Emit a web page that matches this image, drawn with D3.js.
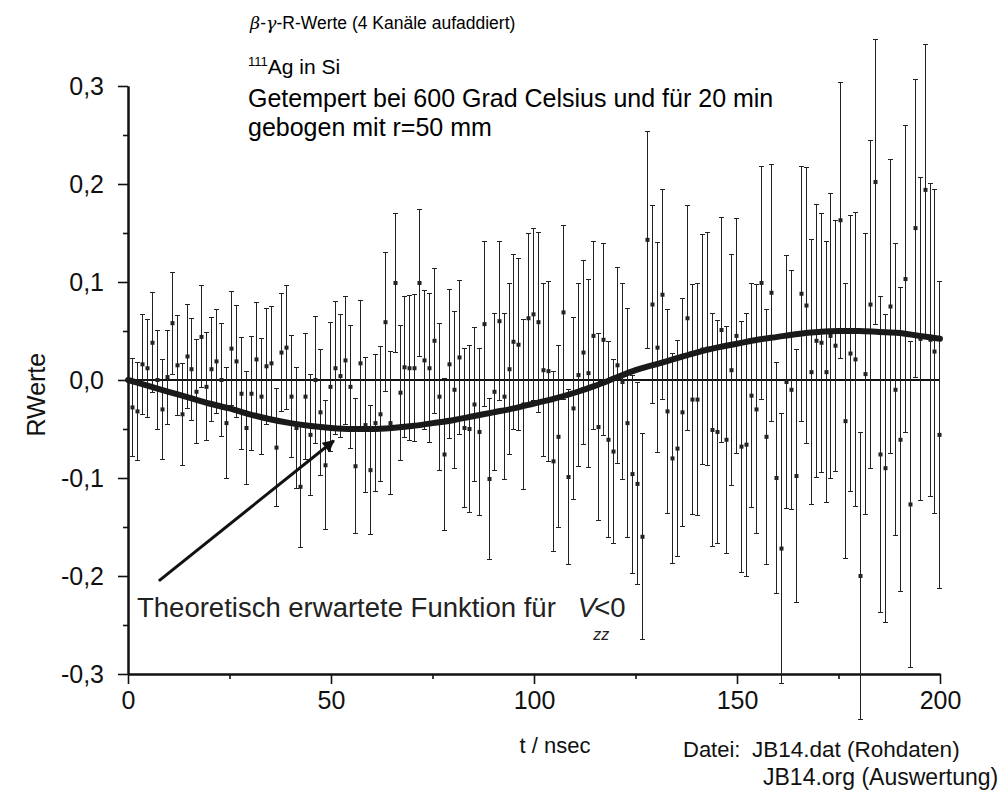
<!DOCTYPE html>
<html>
<head>
<meta charset="utf-8">
<script src="https://cdn.jsdelivr.net/npm/d3@7"></script>
<style>
  body { margin: 0; background: #fff; }
  svg { display: block; font-family: "Liberation Sans", Arial, sans-serif; }
</style>
</head>
<body>
<div id="chart"></div>
<script>
// ── Data ────────────────────────────────────────────────────────────────────

// channel times in ns
const tNs = [
    1.00, 2.22, 3.44, 4.66, 5.88, 7.10, 8.32, 9.54, 10.76, 11.98,
    13.20, 14.42, 15.64, 16.86, 18.08, 19.30, 20.52, 21.74, 22.96, 24.18,
    25.40, 26.62, 27.84, 29.06, 30.28, 31.50, 32.72, 33.94, 35.16, 36.38,
    37.60, 38.82, 40.04, 41.26, 42.48, 43.70, 44.92, 46.14, 47.36, 48.58,
    49.80, 51.02, 52.24, 53.46, 54.68, 55.90, 57.12, 58.34, 59.56, 60.78,
    62.00, 63.22, 64.44, 65.66, 66.88, 68.10, 69.32, 70.54, 71.76, 72.98,
    74.20, 75.42, 76.64, 77.86, 79.08, 80.30, 81.52, 82.74, 83.96, 85.18,
    86.40, 87.62, 88.84, 90.06, 91.28, 92.50, 93.72, 94.94, 96.16, 97.38,
    98.60, 99.82, 101.04, 102.26, 103.48, 104.70, 105.92, 107.14, 108.36, 109.58,
    110.80, 112.02, 113.24, 114.46, 115.68, 116.90, 118.12, 119.34, 120.56, 121.78,
    123.00, 124.22, 125.44, 126.66, 127.88, 129.10, 130.32, 131.54, 132.76, 133.98,
    135.20, 136.42, 137.64, 138.86, 140.08, 141.30, 142.52, 143.74, 144.96, 146.18,
    147.40, 148.62, 149.84, 151.06, 152.28, 153.50, 154.72, 155.94, 157.16, 158.38,
    159.60, 160.82, 162.04, 163.26, 164.48, 165.70, 166.92, 168.14, 169.36, 170.58,
    171.80, 173.02, 174.24, 175.46, 176.68, 177.90, 179.12, 180.34, 181.56, 182.78,
    184.00, 185.22, 186.44, 187.66, 188.88, 190.10, 191.32, 192.54, 193.76, 194.98,
    196.20, 197.42, 198.64, 199.86
];

// measured R values
const rValues = [
    -0.028, -0.032, 0.016, 0.012, 0.038, 0.000, -0.030, 0.003, 0.058, 0.015,
    -0.035, 0.024, 0.011, -0.012, 0.044, -0.007, 0.011, 0.019, 0.000, -0.044,
    0.032, 0.019, -0.014, -0.049, -0.014, 0.021, -0.017, 0.014, 0.017, -0.069,
    0.028, 0.033, -0.017, -0.049, -0.109, -0.017, -0.056, 0.000, -0.033, -0.087,
    -0.007, 0.012, 0.004, 0.020, -0.007, -0.088, 0.017, -0.046, -0.092, -0.044,
    -0.035, 0.059, -0.044, 0.099, -0.013, 0.013, 0.012, 0.012, 0.099, 0.020,
    0.012, 0.040, -0.017, -0.076, 0.016, -0.010, 0.023, -0.049, -0.050, -0.025,
    -0.053, 0.057, -0.101, -0.012, 0.060, -0.017, 0.011, 0.039, 0.036, -0.025,
    0.063, 0.067, 0.059, 0.010, 0.009, -0.083, -0.058, 0.069, -0.099, -0.029,
    0.005, 0.028, 0.007, 0.045, -0.048, 0.041, -0.061, -0.073, 0.015, -0.002,
    -0.044, -0.096, -0.106, -0.160, 0.143, 0.077, 0.033, 0.087, -0.032, -0.080,
    -0.070, -0.033, 0.063, -0.020, -0.020, 0.031, 0.032, -0.051, -0.053, 0.051,
    -0.061, 0.010, 0.045, -0.068, -0.066, -0.016, -0.030, 0.099, -0.058, 0.089,
    -0.100, -0.172, -0.002, -0.010, -0.098, 0.088, 0.076, 0.008, 0.040, 0.038,
    0.008, 0.045, 0.035, 0.163, -0.042, 0.027, 0.021, -0.200, 0.006, 0.077,
    0.202, -0.076, -0.090, 0.075, -0.010, -0.061, 0.103, -0.127, 0.155, 0.042,
    0.194, 0.041, 0.029, -0.056
];

// error bar half-widths
const rErrors = [
    0.050, 0.050, 0.051, 0.050, 0.051, 0.051, 0.051, 0.048, 0.052, 0.051,
    0.052, 0.053, 0.052, 0.053, 0.052, 0.055, 0.053, 0.053, 0.058, 0.057,
    0.058, 0.057, 0.057, 0.058, 0.058, 0.058, 0.059, 0.059, 0.058, 0.060,
    0.060, 0.063, 0.062, 0.062, 0.062, 0.064, 0.062, 0.065, 0.064, 0.066,
    0.066, 0.068, 0.063, 0.065, 0.063, 0.069, 0.064, 0.069, 0.066, 0.070,
    0.069, 0.071, 0.073, 0.071, 0.069, 0.072, 0.074, 0.075, 0.075, 0.071,
    0.076, 0.074, 0.075, 0.078, 0.076, 0.080, 0.079, 0.081, 0.085, 0.079,
    0.085, 0.084, 0.082, 0.080, 0.081, 0.085, 0.087, 0.089, 0.088, 0.087,
    0.087, 0.088, 0.092, 0.088, 0.092, 0.092, 0.093, 0.089, 0.089, 0.093,
    0.093, 0.094, 0.096, 0.096, 0.095, 0.098, 0.100, 0.094, 0.100, 0.100,
    0.117, 0.101, 0.103, 0.105, 0.111, 0.101, 0.107, 0.107, 0.104, 0.107,
    0.110, 0.116, 0.115, 0.117, 0.118, 0.117, 0.119, 0.119, 0.114, 0.115,
    0.116, 0.118, 0.120, 0.128, 0.134, 0.114, 0.127, 0.119, 0.130, 0.131,
    0.118, 0.138, 0.129, 0.122, 0.129, 0.130, 0.141, 0.135, 0.139, 0.132,
    0.133, 0.145, 0.128, 0.141, 0.140, 0.141, 0.150, 0.146, 0.143, 0.167,
    0.145, 0.161, 0.157, 0.150, 0.149, 0.155, 0.157, 0.166, 0.152, 0.165,
    0.148, 0.160, 0.165, 0.157
];

// theoretical curve for Vzz < 0
const fitT = [0, 5, 10, 15, 20, 25, 30, 35, 40, 45, 50, 55, 60, 65, 70, 75, 80, 85, 90, 95, 100,
              105, 110, 115, 120, 125, 130, 135, 140, 145, 150, 155, 160, 165, 170, 175, 180, 185, 190, 195, 200];
const fitR = [0, -0.006, -0.012, -0.018, -0.024, -0.029, -0.035, -0.040, -0.044, -0.047, -0.049,
              -0.050, -0.050, -0.049, -0.047, -0.044, -0.041, -0.037, -0.033, -0.029, -0.024,
              -0.019, -0.013, -0.006, 0.002, 0.010, 0.016, 0.022, 0.028, 0.033, 0.037,
              0.041, 0.044, 0.047, 0.049, 0.050, 0.050, 0.049, 0.048, 0.045, 0.042];

const xTicks = [0, 50, 100, 150, 200];
const xMinorTicks = [25, 75, 125, 175];
const yTicks = [-0.3, -0.2, -0.1, 0, 0.1, 0.2, 0.3];
const yTickLabels = ["-0,3", "-0,2", "-0,1", "0,0", "0,1", "0,2", "0,3"];
const yMinorTicks = [-0.25, -0.15, -0.05, 0.05, 0.15, 0.25];

// ── Layout ──────────────────────────────────────────────────────────────────

const W = 1003, H = 796;
const plot = { left: 128, right: 940, top: 86, bottom: 674 };
const ink = "#111";

const svg = d3.select("#chart").append("svg")
    .attr("width", W)
    .attr("height", H)
    .attr("viewBox", `0 0 ${W} ${H}`);

svg.append("rect").attr("width", W).attr("height", H).attr("fill", "#fff");

const x = d3.scaleLinear().domain([0, 200]).range([plot.left, plot.right]);
const y = d3.scaleLinear().domain([-0.3, 0.3]).range([plot.bottom, plot.top]);

// ── Axes ────────────────────────────────────────────────────────────────────

function styleAxis(g, fontSize) {
    g.select(".domain").attr("stroke", ink).attr("stroke-width", 2);
    g.selectAll(".tick line").attr("stroke", ink).attr("stroke-width", 1.6);
    g.selectAll(".tick text").attr("fill", "#111").attr("font-size", fontSize)
        .attr("font-family", "Liberation Sans, Arial, sans-serif");
}

svg.append("g")
    .attr("transform", `translate(0,${plot.bottom})`)
    .call(d3.axisBottom(x).tickValues(xMinorTicks).tickSize(5).tickSizeOuter(0).tickFormat(""))
    .call(g => styleAxis(g, 25));

svg.append("g")
    .attr("transform", `translate(0,${plot.bottom})`)
    .call(d3.axisBottom(x).tickValues(xTicks).tickSize(10).tickSizeOuter(0).tickPadding(7))
    .call(g => styleAxis(g, 25));

svg.append("g")
    .attr("transform", `translate(${plot.left},0)`)
    .call(d3.axisLeft(y).tickValues(yMinorTicks).tickSize(5).tickSizeOuter(0).tickFormat(""))
    .call(g => styleAxis(g, 25));

svg.append("g")
    .attr("transform", `translate(${plot.left},0)`)
    .call(d3.axisLeft(y).tickValues(yTicks).tickSize(10).tickSizeOuter(0).tickPadding(14)
        .tickFormat((d, i) => yTickLabels[i]))
    .call(g => styleAxis(g, 25));

// zero line
svg.append("line")
    .attr("x1", x(0)).attr("x2", x(200))
    .attr("y1", y(0)).attr("y2", y(0))
    .attr("stroke", ink).attr("stroke-width", 2);

// ── Error bars and points ───────────────────────────────────────────────────

const points = tNs.map((t, i) => ({ t, r: rValues[i], e: rErrors[i] }));

const bars = svg.append("g").attr("stroke", "#222").attr("stroke-width", 1)
    .attr("shape-rendering", "crispEdges");

bars.selectAll("line.bar")
    .data(points)
    .join("line")
    .attr("class", "bar")
    .attr("x1", d => Math.round(x(d.t)) + 0.5).attr("x2", d => Math.round(x(d.t)) + 0.5)
    .attr("y1", d => y(d.r + d.e)).attr("y2", d => y(d.r - d.e));

bars.selectAll("line.capTop")
    .data(points)
    .join("line")
    .attr("class", "capTop")
    .attr("x1", d => Math.round(x(d.t)) - 2).attr("x2", d => Math.round(x(d.t)) + 3)
    .attr("y1", d => y(d.r + d.e)).attr("y2", d => y(d.r + d.e));

bars.selectAll("line.capBottom")
    .data(points)
    .join("line")
    .attr("class", "capBottom")
    .attr("x1", d => Math.round(x(d.t)) - 2).attr("x2", d => Math.round(x(d.t)) + 3)
    .attr("y1", d => y(d.r - d.e)).attr("y2", d => y(d.r - d.e));

svg.append("g").selectAll("rect")
    .data(points)
    .join("rect")
    .attr("x", d => Math.round(x(d.t)) - 1.5)
    .attr("y", d => y(d.r) - 2)
    .attr("width", 4).attr("height", 4)
    .attr("fill", "#222");

// ── Theoretical curve ───────────────────────────────────────────────────────

const fitLine = d3.line()
    .x((d, i) => x(fitT[i]))
    .y(d => y(d))
    .curve(d3.curveMonotoneX);

svg.append("path")
    .attr("d", fitLine(fitR))
    .attr("fill", "none")
    .attr("stroke", "#1a1a1a")
    .attr("stroke-width", 6)
    .attr("stroke-linecap", "round");

// ── Annotation arrow ────────────────────────────────────────────────────────

const arrowFrom = [7.6, -0.205], arrowTo = [50.7, -0.062];
svg.append("defs").append("marker")
    .attr("id", "head")
    .attr("viewBox", "0 0 10 10")
    .attr("refX", 9).attr("refY", 5)
    .attr("markerWidth", 5).attr("markerHeight", 4)
    .attr("markerUnits", "strokeWidth")
    .attr("orient", "auto")
    .append("path").attr("d", "M0,0 L10,5 L0,10 Z").attr("fill", ink);

svg.append("line")
    .attr("x1", x(arrowFrom[0])).attr("y1", y(arrowFrom[1]))
    .attr("x2", x(arrowTo[0])).attr("y2", y(arrowTo[1]))
    .attr("stroke", ink).attr("stroke-width", 3)
    .attr("marker-end", "url(#head)");

const note = svg.append("text")
    .attr("x", 137).attr("y", 617)
    .attr("font-size", 27.5).attr("fill", "#222");
note.append("tspan").text("Theoretisch erwartete Funktion für");
note.append("tspan").attr("font-style", "italic").attr("dx", 22).text("V");
note.append("tspan").attr("font-style", "italic").attr("font-size", 16).attr("dx", -3).attr("dy", 23).text("zz");
note.append("tspan").attr("dx", -15).attr("dy", -23).text("<0");

// ── Titles and labels ───────────────────────────────────────────────────────

const title = svg.append("text").attr("x", 250).attr("y", 29).attr("font-size", 17.5).attr("fill", "#000");
title.append("tspan").attr("font-family", "DejaVu Serif, serif").attr("font-style", "italic").text("β");
title.append("tspan").text("-");
title.append("tspan").attr("font-family", "DejaVu Serif, serif").attr("font-style", "italic").text("γ");
title.append("tspan").text("-R-Werte (4 Kanäle aufaddiert)");

const sample = svg.append("text").attr("x", 248).attr("y", 74).attr("font-size", 21).attr("fill", "#000");
sample.append("tspan").attr("font-size", 13).attr("dy", -8).text("111");
sample.append("tspan").attr("dy", 8).text("Ag in Si");

svg.append("text").attr("x", 248).attr("y", 107).attr("font-size", 25).attr("fill", "#000")
    .text("Getempert bei 600 Grad Celsius und für 20 min");
svg.append("text").attr("x", 248).attr("y", 136).attr("font-size", 25).attr("fill", "#000")
    .text("gebogen mit r=50 mm");

svg.append("text")
    .attr("transform", `translate(45,${y(-0.015)}) rotate(-90)`)
    .attr("text-anchor", "middle")
    .attr("font-size", 25).attr("fill", "#111")
    .text("RWerte");

svg.append("text").attr("x", 555).attr("y", 753).attr("text-anchor", "middle")
    .attr("font-size", 22).attr("fill", "#111").text("t / nsec");

svg.append("text").attr("x", 683).attr("y", 757).attr("font-size", 22).attr("fill", "#111")
    .text("Datei:");
svg.append("text").attr("x", 752).attr("y", 757).attr("font-size", 22.5).attr("fill", "#111")
    .text("JB14.dat (Rohdaten)");
svg.append("text").attr("x", 763).attr("y", 785).attr("font-size", 23).attr("fill", "#111")
    .text("JB14.org (Auswertung)");
</script>
</body>
</html>
